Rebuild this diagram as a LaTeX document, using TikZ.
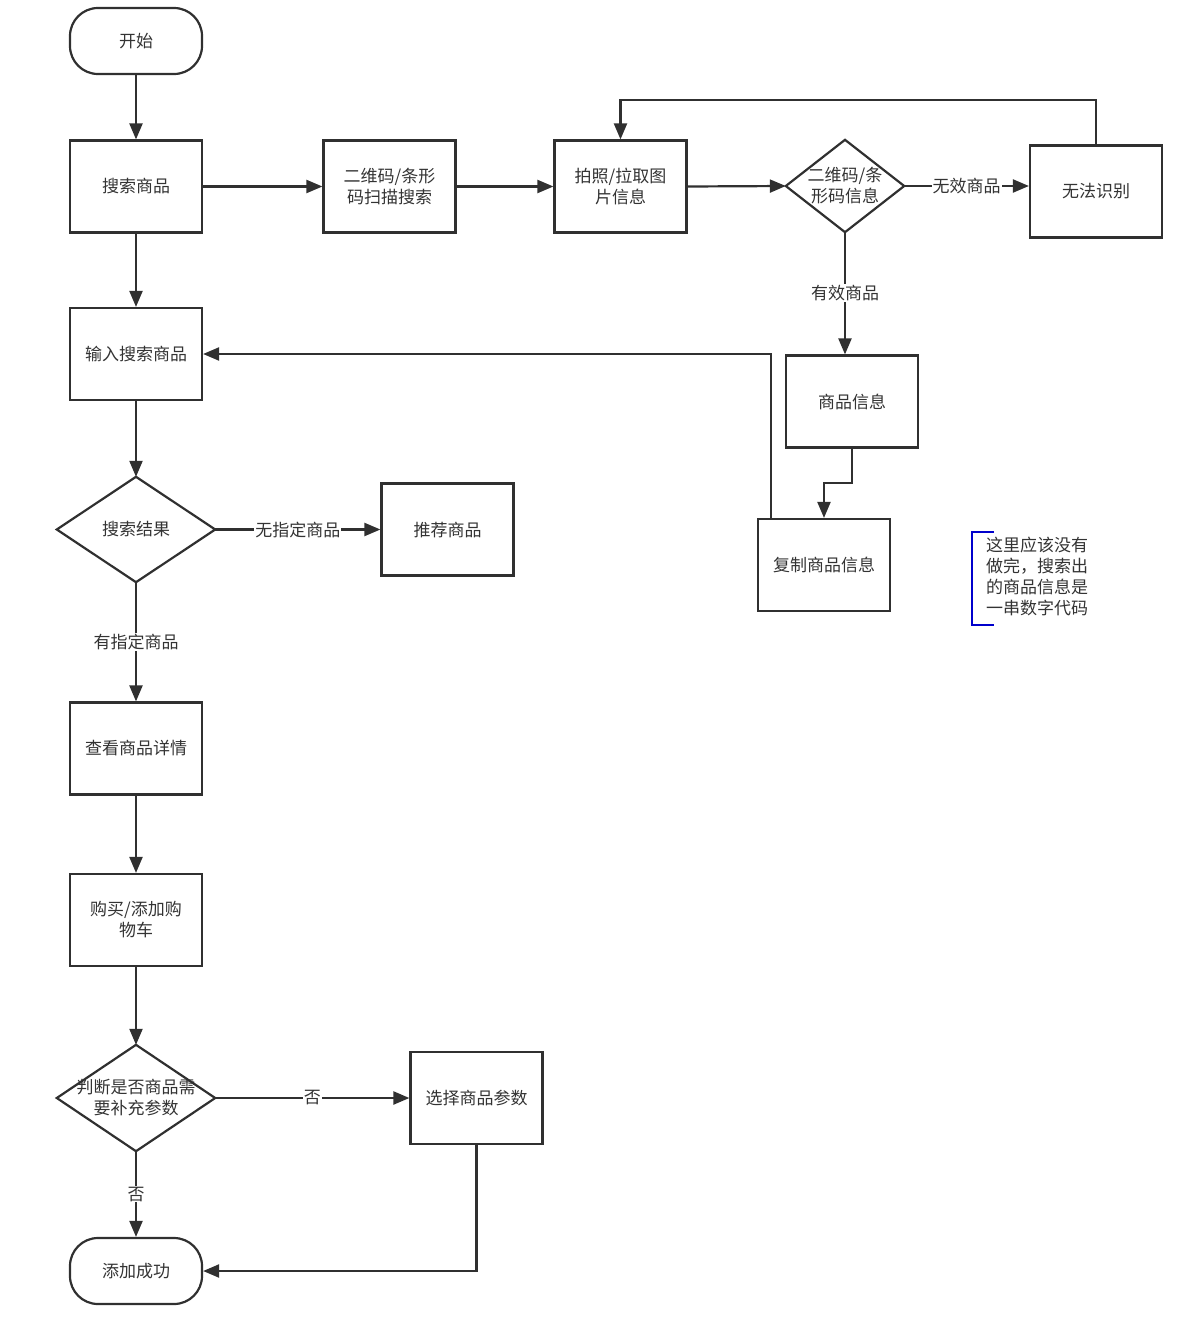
\documentclass[tikz,border=0pt]{standalone}
\usepackage{fontspec}
\setmainfont{Noto Sans CJK SC}
\usetikzlibrary{arrows.meta}
\definecolor{lc}{HTML}{303030}
\definecolor{tc}{HTML}{333333}
\definecolor{nb}{HTML}{0000CC}
\newcommand{\fsz}{\fontsize{17}{21}\selectfont}
\begin{document}
\begin{tikzpicture}[x=1pt,y=-1pt,
  box/.style={draw=lc, line width=2.2pt, minimum width=132pt, minimum height=92pt, inner sep=0pt, align=center, text=tc, font=\fsz},
  term/.style={box, rounded corners=28pt, minimum height=66pt},
  dia/.style={minimum width=158pt, minimum height=105pt, inner sep=0pt, align=center, text=tc, font=\fsz},
  diaedge/.style={draw=lc, line width=2.2pt, line join=miter},
  arr/.style={draw=lc, line width=2.2pt, -{Triangle[length=16pt,width=13pt]}},
  lab/.style={fill=white, inner sep=1pt, text=tc, font=\fsz}]
\useasboundingbox (0,0) rectangle (1176,1320);
% nodes
\node[term] (start) at (136,41) {开始};
\node[box] (search) at (136,186.5) {搜索商品};
\node[box] (scan) at (389.5,186.5) {二维码/条形\\码扫描搜索};
\node[box] (photo) at (620.5,186.5) {拍照/拉取图\\片信息};
\node[dia, minimum width=118pt, minimum height=92pt] (d1) at (845,186) {二维码/条\\形码信息};
\draw[diaedge] (d1.north) -- (d1.east) -- (d1.south) -- (d1.west) -- cycle;
\node[box] (fail) at (1096,191.5) {无法识别};
\node[box] (input) at (136,354) {输入搜索商品};
\node[box] (info) at (852,401.5) {商品信息};
\node[box] (copy) at (824,565) {复制商品信息};
\node[dia] (d2) at (136,529.5) {搜索结果};
\draw[diaedge] (d2.north) -- (d2.east) -- (d2.south) -- (d2.west) -- cycle;
\node[box] (rec) at (447.5,529.5) {推荐商品};
\node[box] (detail) at (136,748.5) {查看商品详情};
\node[box] (buy) at (136,920) {购买/添加购\\物车};
\node[dia, minimum height=106pt] (d3) at (136,1098) {判断是否商品需\\要补充参数};
\draw[diaedge] (d3.north) -- (d3.east) -- (d3.south) -- (d3.west) -- cycle;
\node[box] (sel) at (476.5,1098) {选择商品参数};
\node[term] (end) at (136,1271) {添加成功};
% annotation
\node[anchor=north west, align=left, text=tc, font=\fsz, inner sep=0pt] (note) at (986,537) {这里应该没有\\做完，搜索出\\的商品信息是\\一串数字代码};
\coordinate (b1) at (994,532);
\coordinate (b2) at (972,532);
\coordinate (b3) at (972,625);
\coordinate (b4) at (994,625);
\draw[nb, line width=2.2pt] (b1) -- (b2) -- (b3) -- (b4);
% connectors
\coordinate (loopTop) at (1096,100);
\coordinate (m1) at (852,483);
\coordinate (cpt) at (771,354);
\draw[arr] (start) -- (search);
\draw[arr] (search) -- (scan);
\draw[arr] (scan) -- (photo);
\draw[arr] (photo.east) -- (d1.west);
\draw[arr] (d1.east) -- node[lab] {无效商品} (d1.east -| fail.west);
\draw[arr] (fail.north) -- (loopTop) -| (photo.north);
\draw[arr] (d1.south) -- node[lab] {有效商品} (d1.south |- info.north);
\draw[arr] (info.south) -- (m1) -| (copy.north);
\draw[arr] (cpt |- copy.north) -- (cpt) -- (input.east);
\draw[arr] (search) -- (input);
\draw[arr] (input.south) -- (d2.north);
\draw[arr] (d2.east) -- node[lab] {无指定商品} (rec.west);
\draw[arr] (d2.south) -- node[lab] {有指定商品} (detail.north);
\draw[arr] (detail) -- (buy);
\draw[arr] (buy.south) -- (d3.north);
\draw[arr] (d3.east) -- node[lab] {否} (sel.west);
\draw[arr] (d3.south) -- node[lab] {否} (end.north);
\draw[arr] (sel.south) |- (end.east);
\end{tikzpicture}
\end{document}
